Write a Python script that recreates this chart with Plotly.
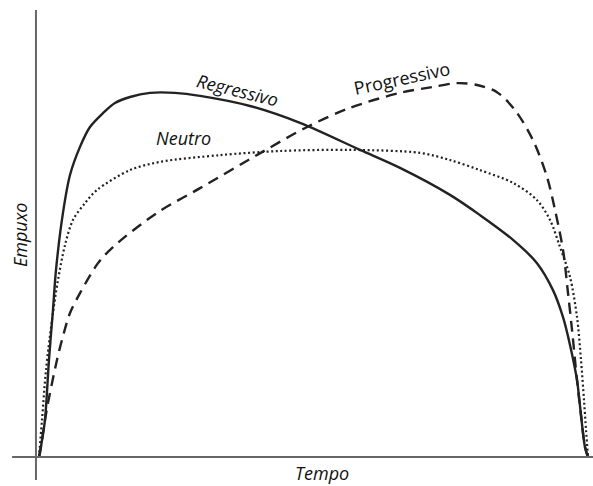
import plotly.graph_objects as go

# Time (0-100 % of burn) and relative thrust
t_reg = [0, 0.18, 0.55, 1.09, 1.82, 2.55, 3.10, 4.37, 5.65, 7.47, 9.29, 11.66, 13.84, 16.58, 20.22, 24.77, 29.33, 38.43, 47.54, 58.47, 65.76, 74.86, 80.33, 86.34, 90.71, 93.62, 95.45, 96.72, 98.0, 98.72, 99.45, 100]
y_reg = [0, 1.07, 4.53, 9.87, 25.9, 39.2, 49.9, 65.1, 75.2, 82.7, 88.0, 91.7, 94.4, 96.0, 97.1, 97.1, 96.3, 93.6, 89.1, 81.9, 77.1, 69.9, 64.5, 57.9, 51.7, 44.5, 37.3, 29.9, 20.5, 11.2, 2.67, 0]

t_prog = [0, 0.55, 1.09, 1.64, 2.37, 3.28, 4.19, 5.65, 7.47, 10.75, 13.48, 21.49, 29.33, 40.62, 48.82, 56.65, 65.76, 71.77, 76.14, 79.78, 83.42, 86.7, 89.98, 92.53, 93.99, 95.45, 96.36, 97.09, 98.0, 98.72, 99.45, 100]
y_prog = [0, 4.53, 9.87, 14.4, 19.7, 25.9, 31.2, 38.4, 43.7, 51.7, 56.0, 65.1, 71.7, 81.3, 88.0, 93.1, 97.1, 98.7, 99.7, 99.2, 97.3, 92.5, 84.5, 74.7, 65.9, 55.2, 43.7, 33.9, 20.5, 11.2, 2.67, 0]

t_neu = [0, 0.55, 1.28, 2.37, 3.46, 4.74, 6.19, 8.38, 10.56, 16.58, 22.04, 32.97, 43.90, 56.65, 69.40, 74.86, 80.33, 86.34, 90.71, 93.08, 94.90, 96.72, 98.0, 98.72, 99.27, 99.64, 100]
y_neu = [0, 9.87, 23.2, 36.5, 47.2, 56.5, 63.2, 67.7, 71.2, 76.5, 78.7, 80.5, 81.6, 81.9, 81.1, 79.2, 76.5, 73.1, 68.5, 63.2, 56.0, 48.0, 37.3, 25.9, 15.2, 7.2, 0]

labels = ["Regressivo", "Progressivo", "Neutro"]
x_title = "Tempo"
y_title = "Empuxo"

fig = go.Figure()
fig.add_trace(go.Scatter(x=t_neu, y=y_neu, mode="lines",
                         line=dict(color="#222", width=2.2, dash="2px,2.6px", shape="spline", smoothing=0.9),
                         hoverinfo="skip"))
fig.add_trace(go.Scatter(x=t_prog, y=y_prog, mode="lines",
                         line=dict(color="#222", width=2.4, dash="11px,7px", shape="spline", smoothing=0.9),
                         hoverinfo="skip"))
fig.add_trace(go.Scatter(x=t_reg, y=y_reg, mode="lines",
                         line=dict(color="#222", width=2.4, shape="spline", smoothing=0.9),
                         hoverinfo="skip"))

# axis lines
fig.add_shape(type="line", x0=-0.55, x1=-0.55, y0=-6.1, y1=119.2, line=dict(color="#666", width=2))
fig.add_shape(type="line", x0=-4.9, x1=101, y0=0, y1=0, line=dict(color="#666", width=2))

fi = dict(family="Open Sans", size=18, color="#111", style="italic")
fu = dict(family="Open Sans", size=18, color="#111")
fig.add_annotation(x=36.2, y=97.9, text=labels[0], showarrow=False, textangle=14, font=fi)
fig.add_annotation(x=66.1, y=101.1, text=labels[1], showarrow=False, textangle=-12, font=fu)
fig.add_annotation(x=26.4, y=85.0, text=labels[2], showarrow=False, font=fi)
fig.add_annotation(x=-3.45, y=59.2, text=y_title, showarrow=False, textangle=-90, font=fi)
fig.add_annotation(x=51.5, y=-4.2, text=x_title, showarrow=False, font=fi)

fig.update_layout(
    width=593, height=486, margin=dict(l=0, r=0, t=0, b=0),
    paper_bgcolor="white", plot_bgcolor="white", showlegend=False,
    xaxis=dict(range=[-7.10, 100.91], visible=False, fixedrange=True),
    yaxis=dict(range=[-7.73, 121.87], visible=False, fixedrange=True),
)
fig.write_html("out.html", config={"displayModeBar": False},
               post_script="document.body.style.margin='0px';")
